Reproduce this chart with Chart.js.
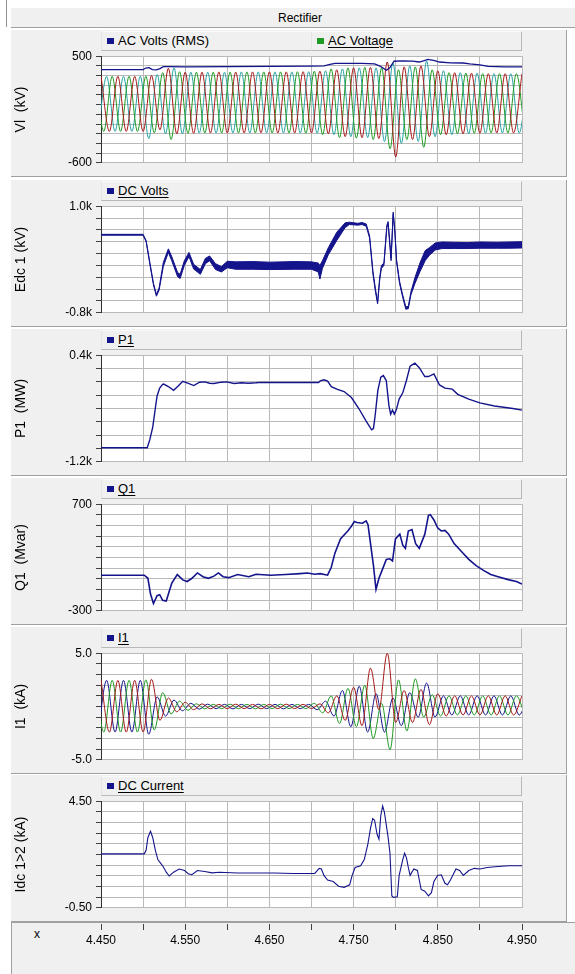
<!DOCTYPE html>
<html>
<head>
<meta charset="utf-8">
<script src="https://cdn.jsdelivr.net/npm/chart.js@4.4.1/dist/chart.umd.min.js"></script>
<style>
html,body{margin:0;padding:0;background:#fff;width:575px;height:974px;overflow:hidden;font-family:"Liberation Sans",Arial,sans-serif;}
.a{position:absolute;}
.hdr{left:11px;top:8px;width:564px;height:19px;background:#f0f0f0;border-bottom:1px solid #a0a0a0;}
.panel{left:11px;width:555px;height:146px;background:#f0f0f0;border-right:1px solid #a0a0a0;border-bottom:1px solid #a0a0a0;}
.leg{height:18px;background:#f0f0f0;border:1px solid #b8b8b8;border-top-color:#fafafa;border-left-color:#e4e4e4;font-size:13px;color:#000;}
.leg .sq{position:absolute;left:5px;top:6px;width:7px;height:6px;}
.leg .tx{position:absolute;left:16px;top:1px;line-height:16px;white-space:nowrap;}
.u{text-decoration:underline;text-underline-offset:2px;}
canvas{position:absolute;left:11px;}
</style>
</head>
<body>
<div class="a" style="left:6px;top:0;width:1px;height:27px;background:#909090"></div>
<div class="a hdr"></div>
<div class="a" style="left:250px;top:11px;width:100px;text-align:center;font-size:12px;color:#000">Rectifier</div>
<div id="chrome"></div>
<div class="a" style="left:11px;top:922px;width:564px;height:52px;background:#f0f0f0;border-left:1px solid #a0a0a0;border-top:1px solid #a0a0a0"></div>
<div class="a" style="left:34px;top:927px;font-size:12px;color:#000">x</div>
<canvas id="c0" width="556" height="129"></canvas>
<canvas id="c1" width="556" height="129"></canvas>
<canvas id="c2" width="556" height="129"></canvas>
<canvas id="c3" width="556" height="129"></canvas>
<canvas id="c4" width="556" height="129"></canvas>
<canvas id="c5" width="556" height="129"></canvas>
<canvas id="cx" width="556" height="40"></canvas>
<script>
// ---------------- DATA ----------------
const xGridTicks = [4.45, 4.50, 4.55, 4.60, 4.65, 4.70, 4.75, 4.80, 4.85, 4.90, 4.95];
const xLabelTicks = [4.45, 4.55, 4.65, 4.75, 4.85, 4.95];
const xTickText = ['4.450', '4.550', '4.650', '4.750', '4.850', '4.950'];

const panelTitles = ['Vl  (kV)', 'Edc 1 (kV)', 'P1  (MW)', 'Q1  (Mvar)', 'I1  (kA)', 'Idc 1>2 (kA)'];
const legendNames = [['AC Volts (RMS)', 'AC Voltage'], ['DC Volts'], ['P1'], ['Q1'], ['I1'], ['DC Current']];

const v1Ticks = [-600, -500, -400, -300, -200, -100, 0, 100, 200, 300, 400, 500];
const v1Ends = ['-600', '500'];
const edcTicks = [-800, -600, -400, -200, 0, 200, 400, 600, 800, 1000];
const edcEnds = ['-0.8k', '1.0k'];
const p1Ticks = [-1200, -1000, -800, -600, -400, -200, 0, 200, 400];
const p1Ends = ['-1.2k', '0.4k'];
const q1Ticks = [-300, -200, -100, 0, 100, 200, 300, 400, 500, 600, 700];
const q1Ends = ['-300', '700'];
const i1Ticks = [-5, -4, -3, -2, -1, 0, 1, 2, 3, 4, 5];
const i1Ends = ['-5.0', '5.0'];
const idcTicks = [-0.5, 0, 0.5, 1, 1.5, 2, 2.5, 3, 3.5, 4, 4.5];
const idcEnds = ['-0.50', '4.50'];

// half-cycle extreme times of the three AC phases (s)
const phaseAT = [4.45, 4.46, 4.47, 4.48, 4.49, 4.50, 4.51, 4.52, 4.53, 4.54, 4.55, 4.56, 4.57, 4.58, 4.59, 4.60, 4.61, 4.62, 4.63, 4.64, 4.65, 4.66, 4.67, 4.68, 4.69, 4.70, 4.71, 4.72, 4.73, 4.74, 4.75, 4.76, 4.77, 4.78, 4.79, 4.80, 4.81, 4.82, 4.83, 4.84, 4.85, 4.86, 4.87, 4.88, 4.89, 4.90, 4.91, 4.92, 4.93, 4.94, 4.95];
const phaseBT = [4.4467, 4.4567, 4.4667, 4.4767, 4.4867, 4.4967, 4.5067, 4.5167, 4.5267, 4.5367, 4.5467, 4.5567, 4.5667, 4.5767, 4.5867, 4.5967, 4.6067, 4.6167, 4.6267, 4.6367, 4.6467, 4.6567, 4.6667, 4.6767, 4.6867, 4.6967, 4.7067, 4.7167, 4.7267, 4.7367, 4.7467, 4.7567, 4.7667, 4.7767, 4.7867, 4.7967, 4.8067, 4.8167, 4.8267, 4.8367, 4.8467, 4.8567, 4.8667, 4.8767, 4.8867, 4.8967, 4.9067, 4.9167, 4.9267, 4.9367, 4.9467, 4.9567];
const phaseCT = [4.4433, 4.4533, 4.4633, 4.4733, 4.4833, 4.4933, 4.5033, 4.5133, 4.5233, 4.5333, 4.5433, 4.5533, 4.5633, 4.5733, 4.5833, 4.5933, 4.6033, 4.6133, 4.6233, 4.6333, 4.6433, 4.6533, 4.6633, 4.6733, 4.6833, 4.6933, 4.7033, 4.7133, 4.7233, 4.7333, 4.7433, 4.7533, 4.7633, 4.7733, 4.7833, 4.7933, 4.8033, 4.8133, 4.8233, 4.8333, 4.8433, 4.8533, 4.8633, 4.8733, 4.8833, 4.8933, 4.9033, 4.9133, 4.9233, 4.9333, 4.9433, 4.9533];

// AC voltage phases (kV)
const vRed = [292, -276, 292, -276, 292, -276, 300, -260, 375, -300, 335, -295, 335, -292, 338, -292, 336, -292, 338, -290, 338, -292, 338, -292, 340, -292, 345, -300, 360, -330, 380, -340, 385, -350, 440, -540, 390, -360, 400, -330, 350, -310, 330, -300, 325, -295, 320, -292, 320, -292, 320];
const vTeal = [-276, 292, -276, 292, -276, 292, -350, 310, -300, 380, -300, 335, -292, 335, -292, 335, -292, 338, -292, 338, -292, 338, -292, 338, -292, 340, -295, 350, -310, 370, -330, 380, -340, 380, -380, 430, -400, 400, -380, 450, -330, 350, -310, 330, -300, 325, -295, 320, -292, 320, -292, 320];
const vGreen = [292, -276, 292, -276, 292, -276, 292, -290, 330, -360, 340, -295, 335, -292, 335, -292, 336, -292, 338, -292, 338, -292, 338, -292, 340, -295, 345, -310, 370, -340, 380, -345, 385, -360, 380, -455, 360, -360, 390, -440, 360, -310, 330, -300, 325, -295, 320, -292, 320, -292, 320, -292];

// AC Volts (RMS)
const rmsT = [4.45, 4.50, 4.503, 4.507, 4.511, 4.516, 4.520, 4.524, 4.530, 4.55, 4.60, 4.65, 4.70, 4.715, 4.722, 4.728, 4.76, 4.775, 4.782, 4.789, 4.793, 4.798, 4.808, 4.82, 4.828, 4.834, 4.838, 4.845, 4.852, 4.865, 4.88, 4.888, 4.90, 4.91, 4.93, 4.95];
const rmsV = [361, 361, 378, 382, 362, 358, 372, 392, 392, 390, 392, 395, 398, 400, 415, 425, 425, 420, 395, 355, 380, 448, 452, 450, 440, 455, 468, 458, 440, 432, 430, 420, 410, 395, 390, 390];

// DC Volts (kV): upper and lower edge of the ripple band
const dcT = [4.450, 4.500, 4.5036, 4.5079, 4.5123, 4.5158, 4.5190, 4.5240, 4.5300, 4.5340, 4.5410, 4.5440, 4.5490, 4.5545, 4.5600, 4.5680, 4.5740, 4.5790, 4.5860, 4.5930, 4.6000, 4.6100, 4.6300, 4.6500, 4.6800, 4.7000, 4.7080, 4.7100, 4.7130, 4.7200, 4.7300, 4.7400, 4.7450, 4.7550, 4.7600, 4.7650, 4.7690, 4.7730, 4.7760, 4.7785, 4.7810, 4.7830, 4.7860, 4.7895, 4.7910, 4.7930, 4.7945, 4.7970, 4.7990, 4.8010, 4.8045, 4.8080, 4.8120, 4.8150, 4.8180, 4.8230, 4.8290, 4.8350, 4.8400, 4.8470, 4.8550, 4.8700, 4.8850, 4.9000, 4.9200, 4.9350, 4.9500];
const dcHi = [525, 525, 420, 60, -300, -490, -380, 50, 280, 150, -120, -150, 80, 220, 20, -70, 120, 160, 30, -20, 70, 60, 65, 55, 65, 60, 40, 0, 80, 300, 560, 720, 730, 710, 725, 700, 500, -100, -400, -620, -200, 0, 40, 680, 740, 400, 120, 900, 600, 100, -260, -480, -700, -690, -450, -200, 50, 250, 300, 380, 395, 390, 385, 395, 390, 395, 400];
const dcLo = [510, 510, 400, 30, -330, -520, -420, -20, 220, 80, -190, -220, 0, 150, -60, -150, 30, 80, -70, -110, -40, -65, -65, -70, -65, -65, -110, -230, -50, 180, 420, 640, 690, 680, 690, 660, 460, -150, -450, -650, -250, -50, 0, 640, 700, 340, 80, 860, 560, 60, -300, -520, -740, -730, -500, -300, -100, 80, 170, 260, 285, 285, 285, 290, 290, 290, 295];

// P1 (MW)
const p1T = [4.450, 4.5049, 4.5079, 4.5114, 4.5145, 4.5166, 4.5197, 4.5232, 4.5245, 4.5300, 4.5362, 4.5420, 4.5471, 4.5530, 4.5602, 4.5670, 4.5732, 4.5790, 4.5841, 4.5930, 4.5994, 4.6081, 4.6168, 4.6250, 4.6342, 4.6400, 4.6700, 4.7000, 4.7083, 4.7104, 4.7148, 4.7191, 4.7235, 4.7300, 4.7387, 4.7474, 4.7562, 4.7649, 4.7714, 4.7736, 4.7757, 4.7788, 4.7823, 4.7853, 4.7888, 4.7919, 4.7940, 4.7962, 4.7984, 4.8006, 4.8041, 4.8084, 4.8128, 4.8171, 4.8228, 4.8280, 4.8346, 4.8389, 4.8454, 4.8520, 4.8585, 4.8672, 4.8737, 4.8868, 4.8999, 4.9173, 4.9391, 4.9500];
const p1V = [-988, -988, -871, -682, -400, -212, -94, -38, -33, -70, -127, -60, 9, -20, -56, -5, 0, -20, -24, -5, 0, -24, -14, -20, -14, -8, -10, -10, -10, 14, 30, 10, -71, -110, -145, -235, -400, -588, -720, -700, -494, -127, 71, 94, 20, -353, -485, -424, -485, -424, -259, -165, 24, 235, 282, 212, 80, 80, 118, -47, -94, -110, -188, -259, -315, -362, -400, -424];

// Q1 (Mvar)
const q1T = [4.450, 4.5014, 4.5057, 4.5088, 4.5123, 4.5166, 4.5197, 4.5232, 4.5275, 4.5306, 4.5341, 4.5406, 4.5471, 4.5523, 4.5580, 4.5645, 4.5711, 4.5776, 4.5841, 4.5894, 4.5950, 4.6016, 4.6124, 4.6255, 4.6342, 4.6516, 4.6691, 4.6865, 4.6952, 4.7039, 4.7104, 4.7191, 4.7235, 4.7278, 4.7344, 4.7431, 4.7474, 4.7509, 4.7540, 4.7605, 4.7649, 4.7671, 4.7701, 4.7736, 4.7766, 4.7801, 4.7845, 4.7888, 4.7932, 4.7962, 4.7997, 4.8049, 4.8084, 4.8115, 4.8150, 4.8193, 4.8237, 4.8280, 4.8346, 4.8389, 4.8411, 4.8454, 4.8498, 4.8541, 4.8585, 4.8629, 4.8694, 4.8781, 4.8868, 4.8955, 4.9042, 4.9129, 4.9216, 4.9347, 4.9434, 4.9500];
const q1V = [34, 34, 5, -143, -232, -158, -149, -202, -208, -128, -40, 40, -10, -25, 5, 55, 20, 5, 25, 55, 20, 11, 40, 20, 43, 34, 40, 49, 55, 43, 49, 34, 108, 241, 375, 449, 493, 537, 528, 522, 543, 508, 330, 123, -99, 5, 93, 182, 188, 167, 375, 419, 315, 286, 449, 463, 330, 286, 419, 596, 602, 552, 478, 449, 454, 419, 330, 256, 182, 123, 79, 40, 20, -10, -25, -49];

// I1 phase currents (kA) at the phase extreme times
const iRed = [2.45, -2.4, 2.45, -2.4, 2.45, -2.4, 2.55, -1.3, 0.8, -0.5, 0.4, -0.3, 0.25, -0.22, 0.2, -0.2, 0.22, -0.2, 0.2, -0.22, 0.2, -0.2, 0.22, -0.2, 0.2, -0.2, 0.25, -0.6, 1.0, -1.3, 1.8, -1.8, 3.6, -0.3, 5.0, -1.5, 1.5, -1.5, 1.6, -1.7, 1.2, -0.9, 1.0, -0.8, 1.0, -0.8, 1.0, -0.8, 1.0, -0.8, 1.0];
const iBlue = [-2.4, 2.45, -2.4, 2.45, -2.4, 2.45, -2.6, 0.9, -0.9, 0.6, -0.4, 0.3, -0.25, 0.22, -0.2, 0.2, -0.22, 0.2, -0.2, 0.22, -0.2, 0.2, -0.22, 0.2, -0.2, 0.2, -0.3, 0.5, -0.9, 1.5, -1.9, 1.9, -2.4, 1.2, -2.4, 0.8, -1.8, 1.3, -1.0, 2.2, -1.0, 1.0, -0.8, 1.0, -0.8, 1.0, -0.8, 1.0, -0.8, 1.0, -0.8, 1.0];
const iGreen = [2.45, -2.4, 2.45, -2.4, 2.45, -2.4, 2.5, -2.2, 1.3, -0.7, 0.5, -0.35, 0.25, -0.22, 0.2, -0.2, 0.22, -0.2, 0.2, -0.22, 0.2, -0.2, 0.22, -0.2, 0.2, -0.2, 0.3, -0.6, 1.0, -1.6, 1.7, -1.9, 2.0, -3.0, 0.3, -4.05, 2.5, -2.3, 2.6, -1.0, 1.1, -0.9, 1.0, -0.8, 1.0, -0.8, 1.0, -0.8, 1.0, -0.8, 1.0, -0.8];

// DC Current (kA)
const idcT = [4.450, 4.5014, 4.5036, 4.5057, 4.5088, 4.5114, 4.5145, 4.5175, 4.5232, 4.5275, 4.5310, 4.5362, 4.5428, 4.5493, 4.5536, 4.5580, 4.5645, 4.5732, 4.5820, 4.5907, 4.6124, 4.6342, 4.6560, 4.6778, 4.7039, 4.7091, 4.7117, 4.7148, 4.7191, 4.7257, 4.7322, 4.7387, 4.7453, 4.7483, 4.7518, 4.7583, 4.7627, 4.7670, 4.7701, 4.7727, 4.7749, 4.7779, 4.7801, 4.7823, 4.7845, 4.7866, 4.7888, 4.7910, 4.7932, 4.7954, 4.7975, 4.8019, 4.8041, 4.8084, 4.8106, 4.8128, 4.8150, 4.8171, 4.8215, 4.8258, 4.8302, 4.8345, 4.8389, 4.8424, 4.8454, 4.8498, 4.8541, 4.8585, 4.8615, 4.8650, 4.8716, 4.8759, 4.8803, 4.8868, 4.8934, 4.8999, 4.9086, 4.9216, 4.9347, 4.9500];
const idcV = [2.03, 2.03, 2.21, 2.80, 3.09, 2.80, 2.21, 1.76, 1.47, 1.17, 0.99, 1.17, 1.32, 1.25, 1.10, 1.05, 1.25, 1.20, 1.14, 1.17, 1.13, 1.13, 1.13, 1.11, 1.11, 1.35, 1.32, 1.02, 0.80, 0.73, 0.51, 0.46, 0.58, 1.02, 1.39, 1.47, 1.76, 2.50, 3.24, 3.69, 3.61, 2.95, 2.72, 3.83, 4.28, 3.98, 3.39, 2.80, 2.06, 0.06, -0.01, 0.02, 1.02, 1.76, 2.06, 1.84, 1.39, 1.02, 1.32, 1.25, 0.36, 0.28, 0.06, 0.21, 0.73, 1.02, 1.05, 0.65, 0.58, 0.80, 1.32, 1.25, 1.02, 1.25, 1.35, 1.32, 1.39, 1.44, 1.47, 1.47];

// ---------------- LAYOUT / STYLE ----------------
const FONT = '"Liberation Sans", Arial, sans-serif';
const NAVY = '#14148c', RED = '#a51818', GREEN = '#1f9a24', TEAL = '#2aa2a2';
const GRID = '#b9b9b9';
const plotTops = [53, 203, 352, 501, 650, 798];

function pairs(xs, ys) { return xs.map((x, i) => ({ x: x, y: ys[i] })); }

// panel chrome
const chrome = document.getElementById('chrome');
plotTops.forEach((pt, i) => {
  const p = document.createElement('div');
  p.className = 'a panel';
  p.style.top = (pt - 23) + 'px';
  chrome.appendChild(p);
  const names = legendNames[i];
  const cells = names.length === 2 ? [[101, 210], [311, 210]] : [[101, 420]];
  names.forEach((nm, k) => {
    const lg = document.createElement('div');
    lg.className = 'a leg';
    lg.style.left = cells[k][0] + 'px';
    lg.style.width = (cells[k][1] - 1) + 'px';
    lg.style.top = (pt - 22) + 'px';
    const col = (i === 0 && k === 1) ? GREEN : NAVY;
    const underline = !(i === 0 && k === 0);
    lg.innerHTML = '<span class="sq" style="background:' + col + '"></span><span class="tx' + (underline ? ' u' : '') + '">' + nm + '</span>';
    chrome.appendChild(lg);
  });
});

const plotBg = {
  id: 'plotBg',
  beforeDraw(chart) {
    const a = chart.chartArea, ctx = chart.ctx;
    ctx.save(); ctx.fillStyle = '#ffffff';
    ctx.fillRect(a.left, a.top, a.right - a.left, a.bottom - a.top);
    ctx.restore();
  }
};

function panelChart(idx, datasets, yTicks, yEnds) {
  const cv = document.getElementById('c' + idx);
  cv.style.top = (plotTops[idx] - 8) + 'px';
  const yMin = yTicks[0], yMax = yTicks[yTicks.length - 1];
  return new Chart(cv, {
    type: 'line',
    data: { datasets: datasets },
    options: {
      responsive: false, animation: false, events: [],
      layout: { padding: { left: 0, right: 45, top: 8, bottom: 8 } },
      plugins: { legend: { display: false }, tooltip: { enabled: false } },
      elements: { point: { radius: 0 }, line: { tension: 0 } },
      scales: {
        x: {
          type: 'linear', min: 4.45, max: 4.95,
          afterBuildTicks: s => { s.ticks = xGridTicks.map(v => ({ value: v })); },
          afterFit: s => { s.height = 0; },
          ticks: { display: false, autoSkip: false },
          grid: { color: GRID, drawTicks: false, lineWidth: 1 },
          border: { display: false }
        },
        y: {
          type: 'linear', min: yMin, max: yMax,
          afterBuildTicks: s => { s.ticks = yTicks.map(v => ({ value: v })); },
          afterFit: s => { s.width = 90; },
          ticks: {
            autoSkip: false, padding: 4, color: '#000',
            font: { size: 12, family: FONT },
            callback: v => (v === yMin ? yEnds[0] : (v === yMax ? yEnds[1] : ''))
          },
          grid: { color: GRID, tickColor: '#404040', tickLength: 5, drawTicks: true },
          border: { display: true, color: '#303030', width: 1 },
          title: { display: true, text: panelTitles[idx], color: '#000', font: { size: 14, family: FONT }, padding: { top: 2, bottom: 0 } }
        }
      }
    },
    plugins: [plotBg]
  });
}

const ac = { borderWidth: 1, cubicInterpolationMode: 'monotone', fill: false };

panelChart(0, [
  { label: legendNames[0][0], data: pairs(rmsT, rmsV), borderColor: NAVY, borderWidth: 1.3, fill: false },
  Object.assign({ label: 'Va', data: pairs(phaseAT, vRed), borderColor: RED }, ac),
  Object.assign({ label: 'Vc', data: pairs(phaseCT, vGreen), borderColor: GREEN }, ac),
  Object.assign({ label: 'Vb', data: pairs(phaseBT, vTeal), borderColor: TEAL }, ac)
], v1Ticks, v1Ends);

panelChart(1, [
  { label: 'DC Volts lo', data: pairs(dcT, dcLo), borderColor: NAVY, borderWidth: 1, fill: false },
  { label: 'DC Volts hi', data: pairs(dcT, dcHi), borderColor: NAVY, borderWidth: 1, backgroundColor: NAVY, fill: '-1' }
], edcTicks, edcEnds);

panelChart(2, [
  { label: 'P1', data: pairs(p1T, p1V), borderColor: NAVY, borderWidth: 1.4, fill: false }
], p1Ticks, p1Ends);

panelChart(3, [
  { label: 'Q1', data: pairs(q1T, q1V), borderColor: NAVY, borderWidth: 1.6, fill: false }
], q1Ticks, q1Ends);

panelChart(4, [
  Object.assign({ label: 'Ia', data: pairs(phaseAT, iRed), borderColor: RED }, ac),
  Object.assign({ label: 'Ic', data: pairs(phaseCT, iGreen), borderColor: GREEN }, ac),
  Object.assign({ label: 'Ib', data: pairs(phaseBT, iBlue), borderColor: NAVY }, ac)
], i1Ticks, i1Ends);

panelChart(5, [
  { label: 'DC Current', data: pairs(idcT, idcV), borderColor: NAVY, borderWidth: 1.1, fill: false }
], idcTicks, idcEnds);

// bottom time axis
const cx = document.getElementById('cx');
cx.style.top = '920px';
new Chart(cx, {
  type: 'line',
  data: { datasets: [] },
  options: {
    responsive: false, animation: false, events: [],
    layout: { padding: { left: 90, right: 45, top: 0, bottom: 0 } },
    plugins: { legend: { display: false }, tooltip: { enabled: false } },
    scales: {
      x: {
        type: 'linear', min: 4.45, max: 4.95, position: 'bottom',
        afterBuildTicks: s => { s.ticks = xGridTicks.map(v => ({ value: v })); },
        afterFit: s => { s.height = 36; },
        ticks: {
          autoSkip: false, maxRotation: 0, padding: 3, color: '#000',
          font: { size: 12, family: FONT },
          callback: v => { const i = xLabelTicks.indexOf(v); return i >= 0 ? xTickText[i] : ''; }
        },
        grid: { drawOnChartArea: false, drawTicks: true, tickLength: 6, tickColor: '#404040' },
        border: { display: false }
      },
      y: { display: false, min: 0, max: 1 }
    }
  }
});
</script>
</body>
</html>
